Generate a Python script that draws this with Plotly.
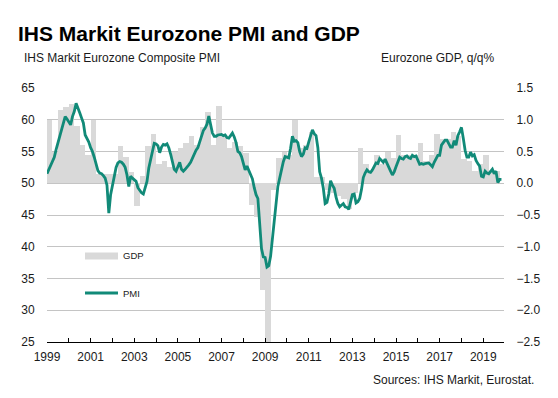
import plotly.graph_objects as go

# ---------------- data ----------------
start_year = 1999
# Composite PMI, monthly from Jan 1999
pmi = [
    51.5, 52.2, 52.9, 53.5, 54.1, 55.3, 56.3, 57.2, 58.4, 59.4, 60.5, 60.1,   # 1999
    59.7, 59.2, 60.5, 61.3, 62.6, 61.7, 61.1, 60.3, 59.5, 57.6, 57.0, 56.5,   # 2000
    55.6, 55.0, 54.1, 53.2, 52.0, 51.6, 51.5, 51.2, 50.8, 49.7, 45.3, 48.2,   # 2001
    49.8, 51.3, 52.5, 53.2, 53.4, 53.3, 53.0, 52.5, 51.3, 49.5, 51.1, 50.8,   # 2002
    50.6, 50.3, 49.3, 48.8, 48.5, 48.3, 49.2, 50.3, 52.4, 53.6, 55.3, 56.3,   # 2003
    56.2, 55.9, 54.8, 55.7, 56.1, 56.0, 56.2, 55.6, 54.6, 53.4, 52.2, 51.9,   # 2004
    52.6, 53.3, 52.2, 51.9, 52.2, 52.5, 52.9, 53.3, 54.0, 54.5, 55.2, 55.6,   # 2005
    56.6, 57.5, 58.3, 58.7, 59.3, 60.6, 59.0, 57.9, 57.4, 57.4, 57.6, 57.7,   # 2006
    57.7, 57.5, 57.6, 57.2, 57.1, 57.5, 57.9, 57.3, 56.4, 55.0, 54.8, 54.2,   # 2007
    53.0, 52.1, 52.7, 52.0, 51.5, 50.7, 49.3, 48.2, 47.6, 43.9, 39.7, 38.4,   # 2008
    38.3, 36.8, 37.0, 38.5, 41.5, 43.8, 46.5, 49.5, 50.8, 52.4, 53.4, 54.2,   # 2009
    54.1, 54.0, 55.5, 57.4, 56.6, 56.7, 56.4, 55.0, 54.2, 54.6, 55.6, 55.5,   # 2010
    56.5, 57.6, 58.4, 57.8, 57.5, 55.6, 51.8, 50.8, 49.2, 46.8, 47.0, 48.3,   # 2011
    50.4, 49.7, 49.2, 47.8, 46.8, 46.3, 46.6, 46.8, 46.3, 46.2, 45.9, 47.0,   # 2012
    48.2, 48.3, 46.9, 47.1, 47.6, 49.0, 50.9, 51.6, 52.1, 51.8, 51.7, 52.1,   # 2013
    52.7, 53.2, 53.1, 53.9, 53.6, 53.3, 53.8, 53.1, 52.3, 51.9, 51.3, 51.8,   # 2014
    52.6, 53.3, 54.1, 53.9, 53.8, 54.2, 54.3, 54.0, 53.9, 54.4, 54.2, 54.3,   # 2015
    53.6, 53.0, 53.1, 53.0, 53.1, 53.2, 53.2, 52.9, 52.6, 53.3, 53.9, 54.4,   # 2016
    54.4, 56.0, 56.4, 56.8, 56.8, 56.3, 55.7, 55.7, 56.7, 56.0, 57.5, 58.1,   # 2017
    58.8, 57.1, 55.2, 54.1, 54.1, 54.9, 54.3, 54.5, 53.6, 53.1, 52.7, 51.1,   # 2018
    51.0, 51.9, 51.6, 51.5, 51.8, 52.2, 51.5, 51.9, 50.1, 50.6, 50.6,         # 2019
]
# GDP q/q %, quarterly from 1999 Q1
gdp = [
    1.0, 0.5, 1.15, 1.2,      # 1999
    1.25, 0.9, 0.6, 0.45,     # 2000
    1.0, 0.15, 0.15, 0.15,    # 2001
    0.15, 0.58, 0.42, 0.18,   # 2002
    -0.36, 0.12, 0.58, 0.77,  # 2003
    0.3, 0.35, 0.25, 0.5,     # 2004
    0.55, 0.63, 0.75, 0.6,    # 2005
    0.89, 1.12, 0.6, 1.22,    # 2006
    0.75, 0.55, 0.65, 0.59,   # 2007
    0.47, -0.35, -0.53, -1.68,  # 2008
    -2.9, -0.1, 0.4, 0.5,     # 2009
    0.45, 1.0, 0.55, 0.6,     # 2010
    0.8, 0.1, 0.1, -0.1,      # 2011
    -0.15, -0.2, -0.25, -0.4, # 2012
    -0.15, 0.55, 0.3, 0.2,    # 2013
    0.45, 0.3, 0.5, 0.4,      # 2014
    0.76, 0.45, 0.45, 0.45,   # 2015
    0.63, 0.35, 0.45, 0.78,   # 2016
    0.7, 0.7, 0.8, 0.75,      # 2017
    0.38, 0.35, 0.2, 0.3,     # 2018
    0.44, 0.2, 0.2,           # 2019
]
year_ticks = list(range(1999, 2020))
year_labels = [str(y) if (y - 1999) % 2 == 0 else "" for y in year_ticks]
pmi_ticks = [25, 30, 35, 40, 45, 50, 55, 60, 65]
gdp_ticks = [-2.5, -2.0, -1.5, -1.0, -0.5, 0.0, 0.5, 1.0, 1.5]

# x positions in decimal years
pmi_x = [start_year + i / 12 for i in range(len(pmi))]
gdp_x = [start_year + i / 4 + 0.125 for i in range(len(gdp))]

TEAL = "#118a78"
BARC = "#d9d9d9"
FONT = "Arial, Liberation Sans, sans-serif"

# The page body has an 8px margin; the figure is sized/offset to compensate.
OFF = 8
W, H = 558 - OFF, 398 - OFF
L, R, T, B = 47 - OFF, 504 - OFF, 88 - OFF, 342 - OFF
pw, ph = R - L, B - T


def px(x):
    return (x - OFF - L) / pw


def py(y):
    return (B - (y - OFF)) / ph


fig = go.Figure()
# bars on the base axis (right, GDP) so the PMI line sits on top
fig.add_trace(go.Bar(
    x=gdp_x, y=gdp, width=0.25, yaxis="y", name="GDP",
    marker=dict(color=BARC, line=dict(width=0)), showlegend=False,
))
fig.add_trace(go.Scatter(
    x=pmi_x, y=pmi, mode="lines", name="PMI", yaxis="y2",
    line=dict(color=TEAL, width=2.8), showlegend=False,
))

fig.update_layout(
    width=W, height=H,
    margin=dict(l=L, r=W - R, t=T, b=H - B, pad=0),
    paper_bgcolor="white", plot_bgcolor="white",
    font=dict(family=FONT, size=12, color="#1a1a1a"),
    bargap=0,
    xaxis=dict(
        range=[1999, 2019.95], tickvals=year_ticks, ticktext=year_labels,
        ticks="inside", ticklen=4, tickcolor="black", tickwidth=1,
        showline=True, linecolor="black", linewidth=1,
        showgrid=False, zeroline=False, fixedrange=True,
        tickfont=dict(size=12, color="#1a1a1a"),
        ticklabelstandoff=4,
    ),
    yaxis=dict(
        range=[-2.5, 1.5], tickvals=gdp_ticks, tickformat=".1f",
        side="right", showgrid=False, zeroline=False, showline=False,
        ticks="outside", ticklen=9, tickcolor="rgba(0,0,0,0)",
        tickfont=dict(size=12, color="#1a1a1a"),
    ),
    yaxis2=dict(
        range=[25, 65], tickvals=pmi_ticks, overlaying="y", side="left",
        showgrid=True, gridcolor="#c4c4c4", gridwidth=1,
        zeroline=False, showline=False,
        ticks="outside", ticklen=9, tickcolor="rgba(0,0,0,0)",
        tickfont=dict(size=12, color="#1a1a1a"),
    ),
)

ann = [
    dict(text="<b>IHS Markit Eurozone PMI and GDP</b>", x=px(16), y=py(34),
         xanchor="left", yanchor="middle", font=dict(size=21, color="black")),
    dict(text="IHS Markit Eurozone Composite PMI", x=px(22), y=py(58),
         xanchor="left", yanchor="middle", font=dict(size=12)),
    dict(text="Eurozone GDP, q/q%", x=px(497), y=py(58),
         xanchor="right", yanchor="middle", font=dict(size=12)),
    dict(text="Sources: IHS Markit, Eurostat.", x=px(536), y=py(380),
         xanchor="right", yanchor="middle", font=dict(size=12)),
    dict(text="GDP", x=px(121), y=py(256),
         xanchor="left", yanchor="middle", font=dict(size=9.5)),
    dict(text="PMI", x=px(121), y=py(293),
         xanchor="left", yanchor="middle", font=dict(size=9.5)),
]
for a in ann:
    a.update(xref="paper", yref="paper", showarrow=False)
fig.update_layout(annotations=ann)

fig.update_layout(shapes=[
    dict(type="rect", xref="paper", yref="paper",
         x0=px(85), x1=px(118), y0=py(259.5), y1=py(252.5),
         fillcolor=BARC, line=dict(width=0)),
    dict(type="line", xref="paper", yref="paper",
         x0=px(85), x1=px(118), y0=py(293), y1=py(293),
         line=dict(color=TEAL, width=2.8)),
])

fig.write_html("out.html")
